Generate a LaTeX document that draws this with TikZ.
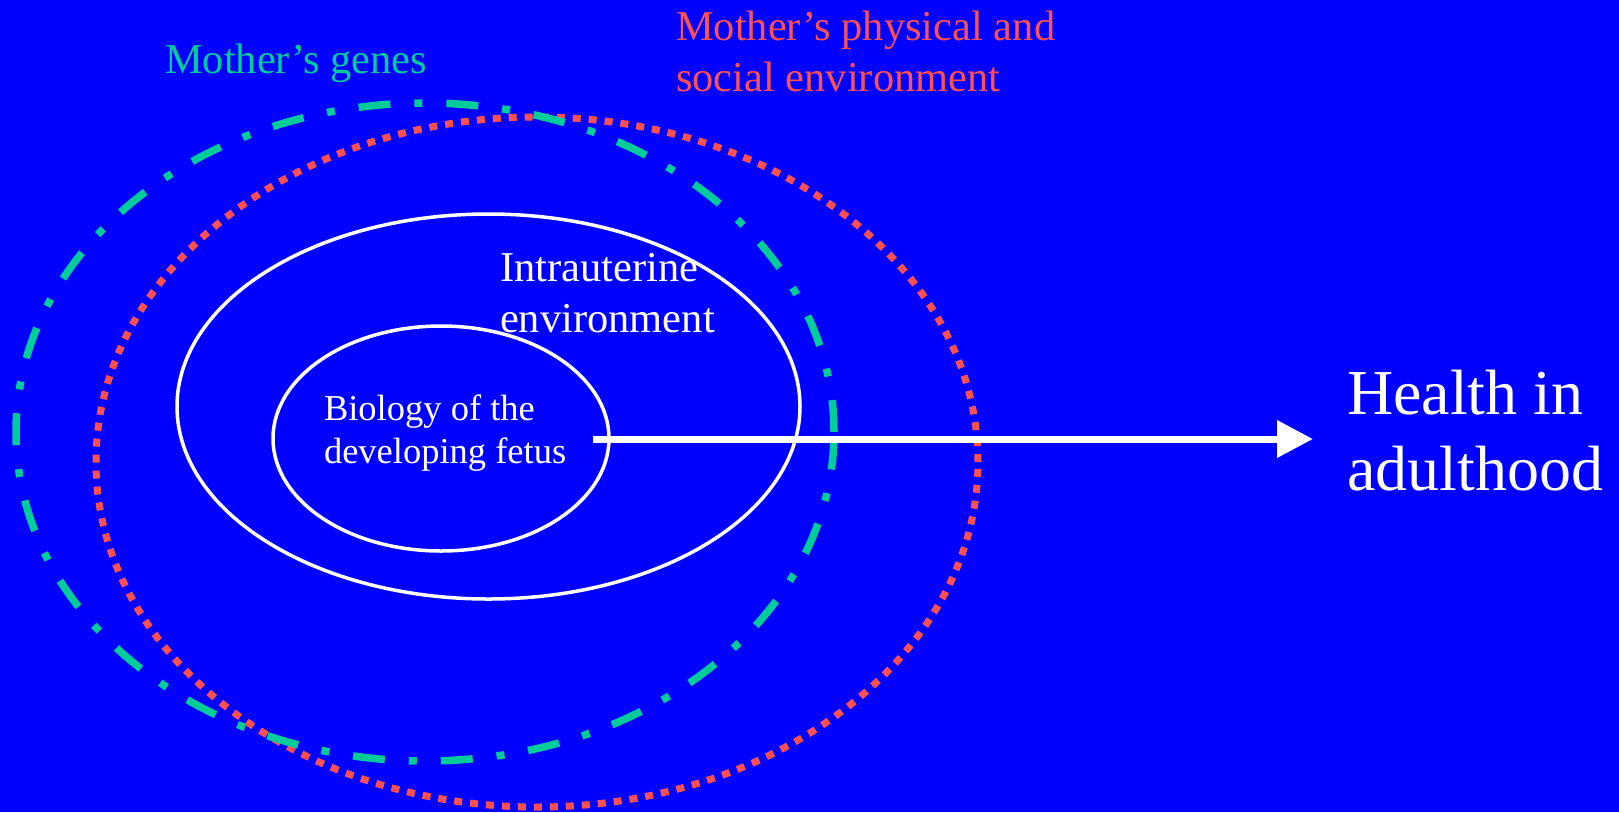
\documentclass[tikz,border=0pt]{standalone}
\usepackage{fontspec}
\setmainfont{Liberation Serif}
\usetikzlibrary{shapes.geometric,arrows.meta}
\definecolor{bg}{RGB}{0,0,255}
\definecolor{gene}{RGB}{0,204,153}
\definecolor{envred}{RGB}{255,80,80}
\begin{document}
\begin{tikzpicture}[x=1pt,y=-1pt,
  ring/.style={ellipse, inner sep=0pt, outer sep=0pt},
  whitering/.style={ring, draw=white, line width=3.5pt},
  lbl/.style={anchor=base west, inner sep=0pt, outer sep=0pt, align=left},
  midfont/.style={font=\fontsize{42.5}{51}\selectfont},
  arrowline/.style={draw=white, line width=7pt, -{Triangle[length=36pt,width=36pt]}}]
\fill[bg] (0,0) rectangle (1619,812);
\useasboundingbox (0,0) rectangle (1619,812);
% ellipses
\node[ring, draw=envred, line width=7pt, dash pattern=on 8pt off 8pt,
  minimum width=882pt, minimum height=690pt] (social) at (537,462) {};
\node[ring, draw=gene, line width=7.5pt, dash pattern=on 32pt off 24pt on 8pt off 24pt,
  minimum width=818pt, minimum height=658pt] (genes) at (425,432) {};
\node[whitering, minimum width=623pt, minimum height=385pt] (intra) at (488.5,406.5) {};
\node[whitering, minimum width=336pt, minimum height=225pt] (fetus) at (441,438.5) {};
% labels (anchor = baseline of the last line)
\node[lbl, midfont, text=gene] (genesT) at (165,73.3) {Mother’s genes};
\node[lbl, midfont, text=envred] (socialT) at (676,91.7) {Mother’s physical and\\social environment};
\node[lbl, midfont, text=white] (intraT) at (500,332.7) {Intrauterine\\environment};
\node[lbl, text=white, font=\fontsize{36.5}{42.5}\selectfont] (fetusT) at (324,463) {Biology of the\\developing fetus};
\node[lbl, text=white, font=\fontsize{64}{76}\selectfont] (health) at (1347,490) {Health in\\adulthood};
% arrow
\coordinate (start) at (593,439);
\draw[arrowline, shorten >=34pt] (start) -- (start -| health.west);
\end{tikzpicture}
\end{document}
